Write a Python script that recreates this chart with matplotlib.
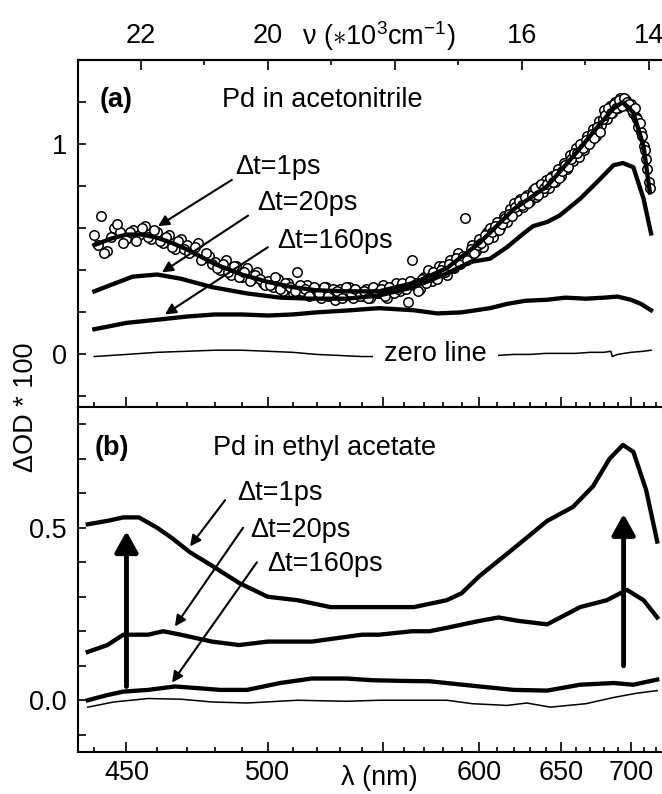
import numpy as np
import matplotlib.pyplot as plt
from matplotlib.ticker import FixedLocator
import matplotlib.transforms as mtransforms

plt.rcParams['font.family'] = ['Liberation Sans', 'DejaVu Sans']
plt.rcParams['mathtext.fontset'] = 'custom'
plt.rcParams['mathtext.rm'] = 'Liberation Sans'
plt.rcParams['mathtext.it'] = 'Liberation Sans:italic'

# ---- panel (a): Pd in acetonitrile ----
# measured points (open circles), even and odd wavelengths
circ_nm = np.arange(440, 716, 2)
circ_a = [0.57, 0.66, 0.49, 0.60, 0.58, 0.55, 0.59, 0.57, 0.61, 0.55,
          0.58, 0.53, 0.57, 0.50, 0.55, 0.52, 0.49, 0.53, 0.46, 0.47,
          0.44, 0.40, 0.45, 0.38, 0.42, 0.37, 0.41, 0.36, 0.39, 0.34,
          0.35, 0.32, 0.36, 0.30, 0.34, 0.29, 0.39, 0.30, 0.33, 0.29,
          0.31, 0.27, 0.32, 0.30, 0.26, 0.31, 0.28, 0.32, 0.27, 0.30,
          0.28, 0.31, 0.27, 0.30, 0.29, 0.33, 0.27, 0.31, 0.34, 0.30,
          0.33, 0.25, 0.45, 0.34, 0.31, 0.37, 0.40, 0.35, 0.38, 0.42,
          0.42, 0.38, 0.45, 0.41, 0.48, 0.44, 0.65, 0.47, 0.52, 0.49,
          0.55, 0.51, 0.58, 0.60, 0.56, 0.63, 0.60, 0.66, 0.63, 0.69,
          0.72, 0.68, 0.74, 0.70, 0.76, 0.73, 0.78, 0.75, 0.80, 0.77,
          0.83, 0.79, 0.85, 0.82, 0.88, 0.85, 0.91, 0.88, 0.95, 0.92,
          0.98, 0.94, 1.00, 0.97, 1.04, 1.01, 1.07, 1.04, 1.11, 1.09,
          1.16, 1.12, 1.18, 1.15, 1.20, 1.17, 1.22, 1.19, 1.21, 1.18,
          1.19, 1.15, 1.13, 1.08, 1.06, 0.99, 0.93, 0.82]
circ2_nm = np.arange(441, 716, 2)
circ2_a = [0.52, 0.48, 0.56, 0.62, 0.53, 0.58, 0.54, 0.60, 0.56, 0.59,
           0.54, 0.56, 0.51, 0.54, 0.50, 0.48, 0.51, 0.45, 0.48, 0.43,
           0.41, 0.43, 0.39, 0.42, 0.37, 0.39, 0.35, 0.38, 0.36, 0.33,
           0.33, 0.37, 0.31, 0.34, 0.32, 0.30, 0.33, 0.31, 0.28, 0.32,
           0.29, 0.32, 0.28, 0.31, 0.30, 0.27, 0.32, 0.29, 0.31, 0.28,
           0.30, 0.27, 0.32, 0.29, 0.31, 0.28, 0.32, 0.29, 0.31, 0.34,
           0.31, 0.35, 0.33, 0.30, 0.36, 0.34, 0.37, 0.39, 0.36, 0.40,
           0.39, 0.43, 0.41, 0.46, 0.43, 0.47, 0.45, 0.50, 0.48, 0.52,
           0.53, 0.57, 0.55, 0.58, 0.61, 0.59, 0.62, 0.65, 0.67, 0.66,
           0.70, 0.73, 0.71, 0.75, 0.72, 0.76, 0.79, 0.76, 0.81, 0.79,
           0.81, 0.84, 0.82, 0.86, 0.84, 0.87, 0.90, 0.89, 0.93, 0.96,
           0.96, 1.00, 0.98, 1.02, 1.00, 1.05, 1.03, 1.08, 1.06, 1.12,
           1.14, 1.17, 1.15, 1.19, 1.17, 1.21, 1.18, 1.22, 1.20, 1.19,
           1.16, 1.17, 1.12, 1.10, 1.04, 0.97, 0.88, 0.79]

a1_nm = [440, 445, 450, 455, 460, 465, 470, 475, 480, 490, 500, 510, 520, 533,
         548, 565, 582, 600, 620, 641, 663, 675, 687, 694, 702, 710, 715]
a1_val = [0.52, 0.55, 0.57, 0.57, 0.555, 0.53, 0.50, 0.465, 0.43, 0.38, 0.345, 0.32,
          0.305, 0.30, 0.30, 0.34, 0.41, 0.53, 0.69, 0.80, 0.98, 1.08, 1.17, 1.20,
          1.15, 0.99, 0.77]

a20_nm = [440, 445, 452, 460, 468, 479, 492, 505, 518, 533, 548, 565, 582, 595,
          606, 616, 626, 632, 641, 649, 663, 675, 687, 694, 702, 710, 716]
a20_val = [0.30, 0.33, 0.37, 0.38, 0.36, 0.32, 0.29, 0.27, 0.265, 0.265, 0.28, 0.32,
           0.385, 0.44, 0.455, 0.51, 0.575, 0.61, 0.63, 0.66, 0.74, 0.82, 0.90, 0.91,
           0.89, 0.74, 0.575]

a160_nm = [440, 445, 450, 460, 470, 480, 490, 500, 510, 520, 535, 548, 565, 577,
           590, 606, 616, 627, 641, 653, 667, 680, 690, 700, 708, 716]
a160_val = [0.12, 0.135, 0.15, 0.165, 0.18, 0.19, 0.19, 0.185, 0.19, 0.20, 0.21, 0.22,
            0.21, 0.195, 0.20, 0.22, 0.24, 0.255, 0.26, 0.27, 0.265, 0.27, 0.275,
            0.26, 0.24, 0.21]

a0_nm = [440, 450, 460, 470, 480, 490, 500, 510, 520, 530, 540, 550, 560, 570, 580,
         590, 600, 610, 620, 630, 640, 650, 660, 670, 680, 685, 686, 690, 700, 710, 716]
a0_val = [-0.01, 0.0, 0.01, 0.015, 0.02, 0.02, 0.015, 0.01, 0.0, -0.005, -0.01, -0.01,
          -0.005, -0.005, 0.0, 0.0, -0.005, -0.005, 0.0, 0.0, 0.005, 0.005, 0.005,
          0.01, 0.01, 0.015, -0.01, 0.0, 0.01, 0.015, 0.02]

# ---- panel (b): Pd in ethyl acetate ----
b1_nm = [438, 444, 449, 454, 460, 465, 471, 479, 489, 500, 512, 526, 540, 549, 565,
         582, 590, 600, 620, 641, 658, 672, 684, 694, 702, 712, 721]
b1_val = [0.51, 0.52, 0.53, 0.53, 0.50, 0.47, 0.43, 0.39, 0.34, 0.30, 0.29, 0.27,
          0.27, 0.27, 0.27, 0.29, 0.31, 0.36, 0.44, 0.52, 0.56, 0.62, 0.70, 0.74,
          0.72, 0.61, 0.46]

b20_nm = [438, 444, 449, 457, 462, 468, 479, 489, 500, 518, 540, 548, 564, 573, 582,
          600, 611, 623, 641, 663, 682, 697, 710, 721]
b20_val = [0.14, 0.16, 0.19, 0.19, 0.20, 0.19, 0.17, 0.16, 0.17, 0.17, 0.19, 0.19,
           0.20, 0.20, 0.21, 0.23, 0.24, 0.23, 0.22, 0.27, 0.29, 0.32, 0.29, 0.24]

b160_nm = [438, 444, 449, 457, 466, 474, 482, 492, 505, 518, 533, 545, 560, 573, 600,
           620, 641, 663, 687, 702, 721]
b160_val = [0.00, 0.015, 0.025, 0.03, 0.04, 0.035, 0.03, 0.03, 0.05, 0.063, 0.063,
            0.058, 0.056, 0.055, 0.04, 0.03, 0.028, 0.045, 0.05, 0.045, 0.06]

b0_nm = [438, 446, 457, 468, 479, 492, 512, 533, 548, 582, 596, 616, 628, 643, 667,
         687, 704, 721]
b0_val = [-0.02, -0.005, 0.005, 0.003, -0.005, -0.008, 0.0, -0.003, 0.0, 0.0, -0.01,
          -0.015, -0.008, -0.02, -0.01, 0.008, 0.02, 0.028]

# axis ticks
nm_major = [450, 500, 550, 600, 650, 700]
nm_labels = ['450', '500', '', '600', '650', '700']
nm_minor = [440, 460, 470, 480, 490, 510, 520, 530, 540, 560, 570, 580, 590,
            610, 620, 630, 640, 660, 670, 680, 690, 710, 720, 730]
wn_major = [22, 20, 18, 16, 14]
wn_labels = ['22', '20', '', '16', '14']
wn_minor = [21, 19, 17, 15]


def wn(lam):
    return 1e4 / np.asarray(lam, dtype=float)


FS = 19.5
LW = 3.1

fig = plt.figure(figsize=(6.62, 7.94), dpi=100)
axA = fig.add_axes([78 / 662, 387 / 794, 590 / 662, 347 / 794])
axB = fig.add_axes([78 / 662, 42 / 794, 590 / 662, 345 / 794])

for ax in (axA, axB):
    ax.set_xlim(22.985, 13.70)
    ax.xaxis.set_major_locator(FixedLocator(wn(nm_major)))
    ax.xaxis.set_minor_locator(FixedLocator(wn(nm_minor)))
    ax.set_xticklabels(nm_labels)
    ax.tick_params(which='both', direction='in', top=False, right=False,
                   labelsize=FS, width=1.2)
    ax.tick_params(axis='x', which='major', length=7, pad=6)
    ax.tick_params(axis='x', which='minor', length=3.5)
    ax.tick_params(axis='y', which='major', length=6, pad=8)
    for s in ax.spines.values():
        s.set_linewidth(1.5)

axA.tick_params(labelbottom=False)

# panel (a)
axA.set_ylim(-0.25, 1.40)
axA.set_yticks([-0.2, 0, 0.2, 0.4, 0.6, 0.8, 1.0, 1.2])
axA.set_yticklabels(['', '0', '', '', '', '', '1', ''])
for nm, vals in ((circ_nm, circ_a), (circ2_nm, circ2_a)):
    axA.plot(wn(nm), vals, 'o', ms=6.8, mfc='white', mec='black', mew=1.1, zorder=2)
axA.plot(wn(a1_nm), a1_val, color='black', lw=LW, zorder=3)
axA.plot(wn(a20_nm), a20_val, color='black', lw=LW, zorder=3)
axA.plot(wn(a160_nm), a160_val, color='black', lw=LW, zorder=3)
axA.plot(wn(a0_nm), a0_val, color='black', lw=1.1, zorder=3)

top = axA.secondary_xaxis('top')
top.set_xticks(wn_major, labels=wn_labels)
top.xaxis.set_minor_locator(FixedLocator(wn_minor))
top.tick_params(which='both', direction='in', labelsize=FS, width=1.2)
top.tick_params(which='major', length=7, pad=8)
top.tick_params(which='minor', length=3.5)
top.spines['top'].set_linewidth(1.5)

transA = mtransforms.blended_transform_factory(axA.transData, axA.transAxes)
axA.text(18.25, 1.069, r'ν ($\ast$10$^{3}$cm$^{-1}$)', transform=transA,
         ha='center', va='center', fontsize=FS, clip_on=False)

axA.text(0.037, 0.885, '(a)', transform=axA.transAxes, fontsize=FS,
         fontweight='bold', va='center')
axA.text(0.244, 0.885, 'Pd in acetonitrile', transform=axA.transAxes,
         fontsize=FS, va='center')
axA.text(wn(576), 0.0, 'zero line', ha='center', va='center', fontsize=FS,
         zorder=5, bbox=dict(boxstyle='square,pad=0.4', fc='white', ec='none'))

thin = dict(arrowstyle='-|>', color='black', lw=1.5, mutation_scale=16,
            shrinkA=0, shrinkB=0)
axA.text(wn(487.4), 0.89, 'Δt=1ps', fontsize=FS, va='center')
axA.annotate('', xy=(wn(460.3), 0.61), xytext=(wn(486.3), 0.83), arrowprops=thin)
axA.text(wn(495.8), 0.72, 'Δt=20ps', fontsize=FS, va='center')
axA.annotate('', xy=(wn(461.6), 0.39), xytext=(wn(492.4), 0.66), arrowprops=thin)
axA.text(wn(503.7), 0.54, 'Δt=160ps', fontsize=FS, va='center')
axA.annotate('', xy=(wn(462.6), 0.19), xytext=(wn(500.1), 0.51), arrowprops=thin)

# panel (b)
axB.set_ylim(-0.15, 0.85)
axB.set_yticks([-0.1, 0.0, 0.1, 0.2, 0.3, 0.4, 0.5, 0.6, 0.7, 0.8])
axB.set_yticklabels(['', '0.0', '', '', '', '', '0.5', '', '', ''])
axB.plot(wn(b1_nm), b1_val, color='black', lw=LW, zorder=3)
axB.plot(wn(b20_nm), b20_val, color='black', lw=LW, zorder=3)
axB.plot(wn(b160_nm), b160_val, color='black', lw=LW, zorder=3)
axB.plot(wn(b0_nm), b0_val, color='black', lw=1.1, zorder=3)

axB.text(0.029, 0.881, '(b)', transform=axB.transAxes, fontsize=FS,
         fontweight='bold', va='center')
axB.text(0.229, 0.881, 'Pd in ethyl acetate', transform=axB.transAxes,
         fontsize=FS, va='center')

axB.text(wn(488.3), 0.60, 'Δt=1ps', fontsize=FS, va='center')
axB.annotate('', xy=(wn(471.2), 0.446), xytext=(wn(483.8), 0.58), arrowprops=thin)
axB.text(wn(493.2), 0.494, 'Δt=20ps', fontsize=FS, va='center')
axB.annotate('', xy=(wn(466.0), 0.214), xytext=(wn(490.5), 0.50), arrowprops=thin)
axB.text(wn(499.7), 0.394, 'Δt=160ps', fontsize=FS, va='center')
axB.annotate('', xy=(wn(465.0), 0.051), xytext=(wn(495.8), 0.40), arrowprops=thin)

thick = dict(arrowstyle='-|>,head_length=0.9,head_width=0.5', color='black',
             lw=3.5, mutation_scale=14, shrinkA=0, shrinkB=0)
axB.annotate('', xy=(wn(450), 0.49), xytext=(wn(450), 0.04), arrowprops=thick)
axB.annotate('', xy=(wn(694.5), 0.54), xytext=(wn(694.5), 0.10), arrowprops=thick)

transB = mtransforms.blended_transform_factory(axB.transData, axB.transAxes)
axB.text(wn(548), -0.075, 'λ (nm)', transform=transB, ha='center', va='center',
         fontsize=FS, clip_on=False)

fig.text(26 / 662, 1 - 407 / 794, 'ΔOD * 100', rotation=90, ha='center',
         va='center', fontsize=FS)

fig.savefig('out.png', dpi=100)
